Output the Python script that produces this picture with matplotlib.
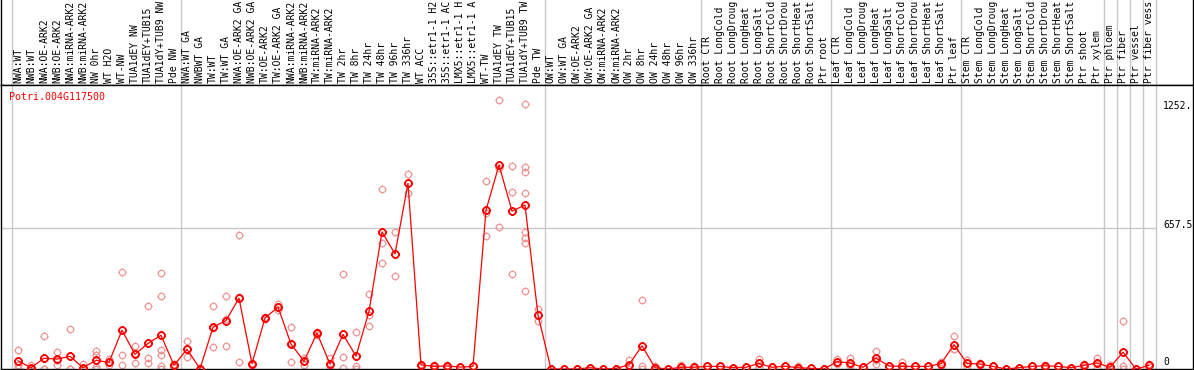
import numpy as np
import matplotlib
matplotlib.use("Agg")
import matplotlib.pyplot as plt
from matplotlib.path import Path

# sample labels (one column each), as far as they show in the header
samples = [
    "NWA:WT", "NWB:WT", "NWA:OE-ARK2", "NWB:OE-ARK2", "NWA:miRNA-ARK2", "NWB:miRNA-ARK2",
    "NW 0hr", "WT H2O", "WT-NW", "TUA1dEY NW", "TUA1dEY+TUB15", "TUA1dY+TUB9 NW", "Pde NW",
    "NWA:WT GA", "NWBWT GA", "TW:WT", "TW:WT GA", "NWA:OE-ARK2 GA", "NWB:OE-ARK2 GA",
    "TW:OE-ARK2", "TW:OE-ARK2 GA", "NWA:miRNA-ARK2", "NWB:miRNA-ARK2", "TW:miRNA-ARK2",
    "TW:miRNA-ARK2", "TW 2hr", "TW 8hr", "TW 24hr", "TW 48hr", "TW 96hr", "TW 336hr",
    "WT ACC", "35S::etr1-1 H2", "35S::etr1-1 AC", "LMX5::etr1-1 H", "LMX5::etr1-1 A",
    "WT-TW", "TUA1dEY TW", "TUA1dEY+TUB15", "TUA1dY+TUB9 TW", "Pde TW",
    "OW:WT", "OW:WT GA", "OW:OE-ARK2", "OW:OE-ARK2 GA", "OW:miRNA-ARK2", "OW:miRNA-ARK2",
    "OW 2hr", "OW 8hr", "OW 24hr", "OW 48hr", "OW 96hr", "OW 336hr",
    "Root CTR", "Root LongCold", "Root LongDroug", "Root LongHeat", "Root LongSalt",
    "Root ShortCold", "Root ShortDrou", "Root ShortHeat", "Root ShortSalt", "Ptr root",
    "Leaf CTR", "Leaf LongCold", "Leaf LongDroug", "Leaf LongHeat", "Leaf LongSalt",
    "Leaf ShortCold", "Leaf ShortDrou", "Leaf ShortHeat", "Leaf ShortSalt", "Ptr leaf",
    "Stem CTR", "Stem LongCold", "Stem LongDroug", "Stem LongHeat", "Stem LongSalt",
    "Stem ShortCold", "Stem ShortDrou", "Stem ShortHeat", "Stem ShortSalt", "Ptr shoot",
    "Ptr xylem", "Ptr phloem", "Ptr fiber", "Ptr vessel", "Ptr fiber vess",
]

# first sample index of each group
group_starts = [0, 13, 41, 53, 63, 73, 84, 85, 86, 87]

means = [
    38, 6, 50, 46, 59, 6, 40, 31, 180, 68, 119, 157, 17,
    92, 1, 194, 225, 329, 25, 237, 288, 116, 36, 167, 23, 161, 60, 268, 637, 535, 863,
    19, 12, 14, 9, 12, 738, 948, 734, 762, 251,
    0, 0, 0, 6, 0, 2, 20, 108, 6, 0, 8, 8,
    12, 12, 6, 8, 26, 8, 13, 6, 3, 0,
    34, 28, 8, 50, 14, 12, 12, 12, 25, 113,
    26, 23, 12, 0, 6, 12, 15, 12, 6, 17, 28,
    8, 78, 0, 17,
]

replicates = [
    [88, 20, 6], [18, 0, 0], [152, 0, 0], [78, 17, 43], [185, 0, 0], [23, 0, 0],
    [85, 65, 11, 0], [45, 17, 31], [449, 64, 20], [105, 26, 73], [291, 50, 26],
    [445, 338, 88, 64, 14, 0], [25, 10, 16],
    [129, 54, 93], [0, 0, 3], [291, 101, 190], [338, 105, 232], [621, 31, 335],
    [25, 20, 30], [243, 231], [304, 272], [194, 31, 123], [53, 19], [167, 160, 174],
    [50, 0, 19], [440, 54, 5], [171, 12, 0], [349, 251, 198], [835, 587, 491],
    [635, 431], [905, 819],
    [19, 25, 13], [12, 19, 5], [17, 11], [9, 9], [12, 12],
    [872, 726, 618], [1252, 659, 933], [942, 821, 440],
    [1232, 937, 917, 817, 635, 607, 586, 361], [279, 222],
    [0, 0], [0, 0], [0, 0], [6, 6], [0, 0], [2, 2], [42, 0], [319, 14, 0],
    [12, 0], [0, 0], [17, 0], [12, 4],
    [12, 12], [12, 12], [6, 6], [8, 8], [45, 8], [8, 8], [13, 13], [12, 0], [3, 3], [0, 0],
    [45, 23], [53, 12, 19], [8, 8], [82, 25, 43], [14, 14], [34, 0, 2], [12, 12],
    [12, 12], [34, 16], [152, 93, 94],
    [40, 12], [28, 18], [12, 12], [0, 0], [6, 6], [12, 12], [19, 11], [12, 12], [6, 6],
    [25, 9], [53, 3],
    [17, 0], [223, 12, 0], [0, 0], [25, 9],
]

gene = "Potri.004G117500"
ytick_values = ["1252.", "657.5", "0"]

W, H = 1194, 370
fig = plt.figure(figsize=(W / 100, H / 100), dpi=100)

step = 13.0
xmin = -(18 - 1) / step
xmax = xmin + (W - 2) / step
grid_c = "#c8c8c8"
mono = "DejaVu Sans Mono"

head = fig.add_axes([1 / W, 285 / H, (W - 2) / W, 85 / H])
ax = fig.add_axes([1 / W, 1 / H, (W - 2) / W, 284 / H])

for a in (head, ax):
    a.set_xlim(xmin, xmax)
    a.set_xticks([])
    a.set_yticks([])
    for s in a.spines.values():
        s.set_linewidth(1.0)
        s.set_color("black")
head.spines["top"].set_visible(False)
head.set_ylim(0, 1)
ax.set_ylim(0, 1320)

xs = np.arange(len(samples))
bounds = [g - 0.5 for g in group_starts] + [len(samples) - 0.5]
for b in bounds:
    head.axvline(b, color=grid_c, lw=1.0, zorder=0)
    ax.axvline(b, color=grid_c, lw=1.0, zorder=0)
ax.plot([xmin, bounds[-1]], [657.5, 657.5], color=grid_c, lw=1.0, zorder=0)

for x, name in zip(xs, samples):
    head.text(x, 2 / 85, name, rotation=90, ha="center", va="bottom",
              family=mono, fontsize=7.0)

# open circle with four tiny stubs, as a polygon
t = np.linspace(0, 2 * np.pi, 33)
verts = list(zip(np.cos(t), np.sin(t)))
codes = [Path.MOVETO] + [Path.LINETO] * 32
for dx, dy in [(0, 1), (0, -1), (1, 0), (-1, 0)]:
    verts += [(dx, dy), (1.22 * dx, 1.22 * dy)]
    codes += [Path.MOVETO, Path.LINETO]
ring = Path(verts, codes)

for x, reps in zip(xs, replicates):
    ax.plot([x] * len(reps), reps, linestyle="none", marker=ring, markersize=5.6,
            markerfacecolor="none", markeredgecolor="#f09595", markeredgewidth=0.9,
            zorder=2)

ax.plot(xs, means, color="red", lw=0.9, zorder=3)
ax.plot(xs, means, linestyle="none", marker=ring, markersize=6.0,
        markerfacecolor="none", markeredgecolor="red", markeredgewidth=1.3, zorder=4)

ax.text(8 / (W - 2), (369 - 97) / 284, gene, transform=ax.transAxes, color="red",
        family=mono, fontsize=7.2, ha="left", va="center")

tx = xmin + (1163 - 1) / step
for lab, ypx in zip(ytick_values, [106, 225, 362]):
    ax.text(tx, (369 - ypx) * 1320 / 284, lab, family=mono, fontsize=7.0,
            ha="left", va="center")

fig.savefig("out.png", dpi=100)
